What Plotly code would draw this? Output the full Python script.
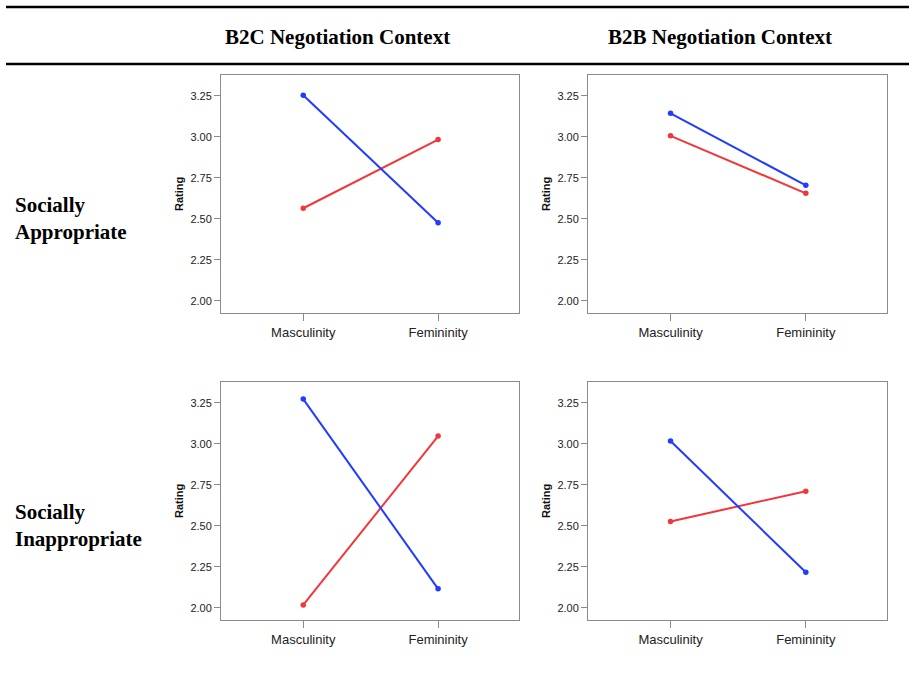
import plotly.graph_objects as go

categories = ["Masculinity", "Femininity"]
col_titles = ["B2C Negotiation Context", "B2B Negotiation Context"]
row_titles = ["Socially<br>Appropriate", "Socially<br>Inappropriate"]

# panel values
blue_b2c_app = [3.255, 2.476]
red_b2c_app = [2.565, 2.984]
blue_b2b_app = [3.144, 2.705]
red_b2b_app = [3.007, 2.656]
blue_b2c_inapp = [3.274, 2.116]
red_b2c_inapp = [2.018, 3.048]
blue_b2b_inapp = [3.018, 2.217]
red_b2b_inapp = [2.527, 2.712]

y_ticks = [2.00, 2.25, 2.50, 2.75, 3.00, 3.25]
y_tick_text = ["2.00", "2.25", "2.50", "2.75", "3.00", "3.25"]

W, H = 909, 673
BLUE = "#1f3cff"
RED = "#f2363a"

panels = [
    (blue_b2c_app, red_b2c_app, (221, 519), (75, 313)),
    (blue_b2b_app, red_b2b_app, (588, 887), (75, 313)),
    (blue_b2c_inapp, red_b2c_inapp, (221, 519), (382, 620)),
    (blue_b2b_inapp, red_b2b_inapp, (588, 887), (382, 620)),
]

fig = go.Figure()
layout = {}
annotations = []
for i, (blue, red, (px0, px1), (py0, py1)) in enumerate(panels):
    n = "" if i == 0 else str(i + 1)
    xa, ya = "x" + n, "y" + n
    for vals, col in ((red, RED), (blue, BLUE)):
        fig.add_trace(go.Scatter(
            x=categories, y=vals, xaxis=xa, yaxis=ya, mode="lines+markers",
            line=dict(color=col, width=2), marker=dict(color=col, size=5.5),
            showlegend=False, hoverinfo="skip"))
    layout["xaxis" + n] = dict(
        domain=[px0 / W, px1 / W], anchor=ya, type="category",
        range=[-0.61, 1.60], showgrid=False, zeroline=False,
        showline=True, mirror=True, linecolor="#8a8a8a", linewidth=1,
        ticks="outside", ticklen=7, tickcolor="#8a8a8a",
        tickfont=dict(family="Liberation Sans, Arial", size=13, color="#222"))
    layout["yaxis" + n] = dict(
        domain=[1 - py1 / H, 1 - py0 / H], anchor=xa,
        range=[1.926, 3.378], showgrid=False, zeroline=False,
        showline=True, mirror=True, linecolor="#8a8a8a", linewidth=1,
        ticks="outside", ticklen=6, tickcolor="#8a8a8a",
        tickvals=y_ticks, ticktext=y_tick_text,
        tickfont=dict(family="Liberation Sans, Arial", size=11, color="#222"))
    annotations.append(dict(
        text="<b>Rating</b>", textangle=-90, xref="paper", yref="paper",
        x=(px0 - 42) / W, y=1 - (py0 + py1) / 2 / H,
        xanchor="center", yanchor="middle", showarrow=False,
        font=dict(family="Liberation Sans, Arial", size=11, color="#111")))

for t, cx in zip(col_titles, (337, 720)):
    annotations.append(dict(
        text="<b>%s</b>" % t, xref="paper", yref="paper", x=cx / W, y=1 - 37 / H,
        xanchor="center", yanchor="middle", showarrow=False,
        font=dict(family="Liberation Serif, Times New Roman", size=21, color="#000")))

for t, cy in zip(row_titles, (219, 525)):
    annotations.append(dict(
        text="<b>%s</b>" % t, xref="paper", yref="paper", x=13 / W, y=1 - cy / H,
        xanchor="left", yanchor="middle", align="left", showarrow=False,
        font=dict(family="Liberation Serif, Times New Roman", size=21, color="#000")))

shapes = [
    dict(type="line", xref="paper", yref="paper", x0=6 / W, x1=1, y0=1 - 7 / H, y1=1 - 7 / H,
         line=dict(color="#000", width=2.5)),
    dict(type="line", xref="paper", yref="paper", x0=6 / W, x1=1, y0=1 - 64 / H, y1=1 - 64 / H,
         line=dict(color="#000", width=2.5)),
]

fig.update_layout(
    width=W, height=H, margin=dict(l=0, r=0, t=0, b=0),
    paper_bgcolor="white", plot_bgcolor="white",
    annotations=annotations, shapes=shapes, **layout)

fig.write_html(
    "out.html",
    config={"displayModeBar": False},
    post_script="document.body.style.margin='0px';document.body.style.overflow='hidden';")
